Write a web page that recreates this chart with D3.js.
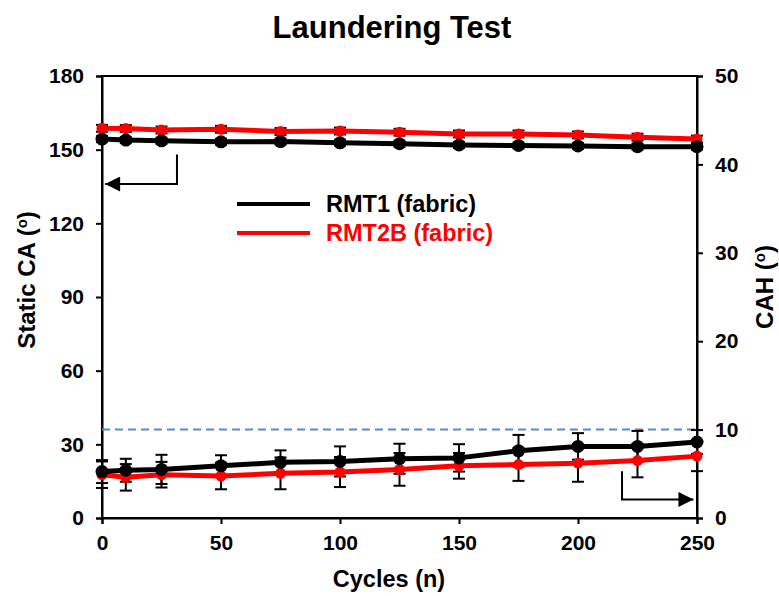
<!DOCTYPE html>
<html>
<head>
<meta charset="utf-8">
<script src="https://cdn.jsdelivr.net/npm/d3@7"></script>
<style>
  body { margin: 0; background: #fff; }
  text { font-family: "Liberation Sans", Arial, sans-serif; font-weight: bold; }
</style>
</head>
<body>
<div id="chart"></div>
<script>
// laundering cycles
var cycles = [0, 10, 25, 50, 75, 100, 125, 150, 175, 200, 225, 250];

// static contact angle (left axis)
var rmt1CA = [154.3, 153.9, 153.6, 153.2, 153.3, 152.8, 152.4, 151.9, 151.7, 151.5, 151.2, 151.2];
var rmt1CAErr = [1.2, 1.2, 1.2, 1.2, 1.2, 1.2, 1.2, 1.2, 1.2, 1.2, 1.2, 1.2];
var rmt2bCA = [158.7, 158.6, 158.0, 158.3, 157.4, 157.6, 157.1, 156.4, 156.4, 156.0, 155.1, 154.3];
var rmt2bCAErr = [1.4, 1.4, 1.4, 1.4, 1.4, 1.4, 1.4, 1.4, 1.4, 1.4, 1.4, 1.4];

// contact angle hysteresis (right axis)
var rmt1CAH = [5.25, 5.4, 5.5, 5.9, 6.3, 6.4, 6.7, 6.8, 7.6, 8.1, 8.1, 8.6];
var rmt1CAHErr = [1.3, 1.3, 1.65, 1.2, 1.35, 1.7, 1.7, 1.55, 1.8, 1.5, 1.75, 1.35];
var rmt2bCAH = [4.9, 4.6, 4.9, 4.75, 5.05, 5.2, 5.5, 5.9, 6.05, 6.2, 6.5, 7.0];
var rmt2bCAHErr = [1.5, 1.5, 1.45, 1.5, 1.8, 1.7, 1.85, 1.45, 1.85, 2.1, 1.9, 1.7];

var seriesNames = ["RMT1 (fabric)", "RMT2B (fabric)"];
var seriesColors = ["#000000", "#ff0000"];
var xTicks = [0, 50, 100, 150, 200, 250];
var leftTicks = [0, 30, 60, 90, 120, 150, 180];
var rightTicks = [0, 10, 20, 30, 40, 50];
var cahLimit = 10;

var width = 779, height = 596;
var margin = { top: 76, right: 82, bottom: 78, left: 102 };
var plot_w = width - margin.left - margin.right,
    plot_h = height - margin.top - margin.bottom;

var svg = d3.select("#chart").append("svg")
    .attr("width", width)
    .attr("height", height);

var g = svg.append("g")
    .attr("transform", "translate(" + margin.left + "," + margin.top + ")");

var x = d3.scaleLinear().domain([0, 250]).range([0, plot_w]);
var yL = d3.scaleLinear().domain([0, 180]).range([plot_h, 0]);
var yR = d3.scaleLinear().domain([0, 50]).range([plot_h, 0]);

// frame
g.append("rect")
    .attr("width", plot_w).attr("height", plot_h)
    .attr("fill", "none").attr("stroke", "#000").attr("stroke-width", 2);

// axes
var xAxis = g.append("g").attr("transform", "translate(0," + plot_h + ")")
    .call(d3.axisBottom(x).tickValues(xTicks).tickSize(6).tickPadding(6));
var lAxis = g.append("g")
    .call(d3.axisLeft(yL).tickValues(leftTicks).tickSize(6).tickPadding(12));
var rAxis = g.append("g").attr("transform", "translate(" + plot_w + ",0)")
    .call(d3.axisRight(yR).tickValues(rightTicks).tickSize(6).tickPadding(12));

[xAxis, lAxis, rAxis].forEach(function (a) {
    a.select(".domain").attr("stroke-width", 2);
    a.selectAll(".tick line").attr("stroke-width", 2);
    a.selectAll(".tick text")
        .attr("font-size", "21px")
        .attr("font-family", "Liberation Sans, Arial, sans-serif")
        .attr("font-weight", "bold")
        .attr("fill", "#000");
});
xAxis.selectAll(".tick text").attr("dy", "0.95em");

// dashed CAH limit
g.append("line")
    .attr("x1", 0).attr("x2", plot_w)
    .attr("y1", yR(cahLimit)).attr("y2", yR(cahLimit))
    .attr("stroke", "#5b8bc6").attr("stroke-width", 2)
    .attr("stroke-dasharray", "8,5");

function drawSeries(vals, errs, yScale) {
    var pts = cycles.map(function (c, i) { return { x: c, y: vals[i], e: errs[i] }; });
    var eb = g.append("g").selectAll("g").data(pts).enter().append("g");
    eb.append("line")
        .attr("x1", function (d) { return x(d.x); }).attr("x2", function (d) { return x(d.x); })
        .attr("y1", function (d) { return yScale(d.y - d.e); })
        .attr("y2", function (d) { return yScale(d.y + d.e); })
        .attr("stroke", "#000").attr("stroke-width", 2);
    [-1, 1].forEach(function (s) {
        eb.append("line")
            .attr("x1", function (d) { return x(d.x) - 6; })
            .attr("x2", function (d) { return x(d.x) + 6; })
            .attr("y1", function (d) { return yScale(d.y + s * d.e); })
            .attr("y2", function (d) { return yScale(d.y + s * d.e); })
            .attr("stroke", "#000").attr("stroke-width", 2);
    });
    return pts;
}

function drawLine(pts, yScale, color, r) {
    var line = d3.line()
        .x(function (d) { return x(d.x); })
        .y(function (d) { return yScale(d.y); });
    g.append("path").datum(pts)
        .attr("d", line)
        .attr("fill", "none").attr("stroke", color).attr("stroke-width", 5)
        .attr("stroke-linejoin", "round");
    g.append("g").selectAll("circle").data(pts).enter().append("circle")
        .attr("cx", function (d) { return x(d.x); })
        .attr("cy", function (d) { return yScale(d.y); })
        .attr("r", r)
        .attr("fill", color);
}

// error bars under the lines
var p2 = drawSeries(rmt2bCA, rmt2bCAErr, yL);
var p1 = drawSeries(rmt1CA, rmt1CAErr, yL);
var p4 = drawSeries(rmt2bCAH, rmt2bCAHErr, yR);
var p3 = drawSeries(rmt1CAH, rmt1CAHErr, yR);

drawLine(p2, yL, seriesColors[1], 5.5);
drawLine(p4, yR, seriesColors[1], 5.5);
drawLine(p1, yL, seriesColors[0], 6.5);
drawLine(p3, yR, seriesColors[0], 6.5);

// arrows pointing to the axis each group belongs to
svg.append("defs").append("marker")
    .attr("id", "head").attr("viewBox", "0 0 10 10")
    .attr("refX", 10).attr("refY", 5)
    .attr("markerWidth", 16).attr("markerHeight", 15)
    .attr("markerUnits", "userSpaceOnUse")
    .attr("orient", "auto")
    .append("path").attr("d", "M0,0 L10,5 L0,10 z").attr("fill", "#000");

g.append("path")
    .attr("d", "M" + x(31.5) + "," + yL(148) + " V" + yL(136) + " H" + x(1.3))
    .attr("fill", "none").attr("stroke", "#000").attr("stroke-width", 2)
    .attr("marker-end", "url(#head)");
g.append("path")
    .attr("d", "M" + x(218.5) + "," + yR(5.3) + " V" + yR(2.1) + " H" + x(248.5))
    .attr("fill", "none").attr("stroke", "#000").attr("stroke-width", 2)
    .attr("marker-end", "url(#head)");

// legend
var legend = svg.append("g").attr("transform", "translate(237,204)");
seriesNames.forEach(function (name, i) {
    legend.append("line")
        .attr("x1", 0).attr("x2", 73)
        .attr("y1", i * 29).attr("y2", i * 29)
        .attr("stroke", seriesColors[i]).attr("stroke-width", 4);
    legend.append("text")
        .attr("x", 89).attr("y", i * 29)
        .attr("dy", "0.35em")
        .attr("font-size", "23.5px")
        .attr("fill", seriesColors[i])
        .text(name);
});

// titles
svg.append("text")
    .attr("x", 392).attr("y", 38)
    .attr("text-anchor", "middle")
    .attr("font-size", "31px")
    .text("Laundering Test");

svg.append("text")
    .attr("x", 389).attr("y", 587)
    .attr("text-anchor", "middle")
    .attr("font-size", "23.5px")
    .text("Cycles (n)");

function degLabel(cx, cy, label) {
    var el = svg.append("text")
        .attr("transform", "translate(" + cx + "," + cy + ") rotate(-90)")
        .attr("text-anchor", "middle")
        .attr("font-size", "24px");
    el.append("tspan").text(label + " (");
    el.append("tspan").attr("font-size", "15px").attr("dy", "-8").text("o");
    el.append("tspan").attr("dy", "8").text(")");
}
degLabel(35, 280, "Static CA");
degLabel(773, 287, "CAH");
</script>
</body>
</html>
